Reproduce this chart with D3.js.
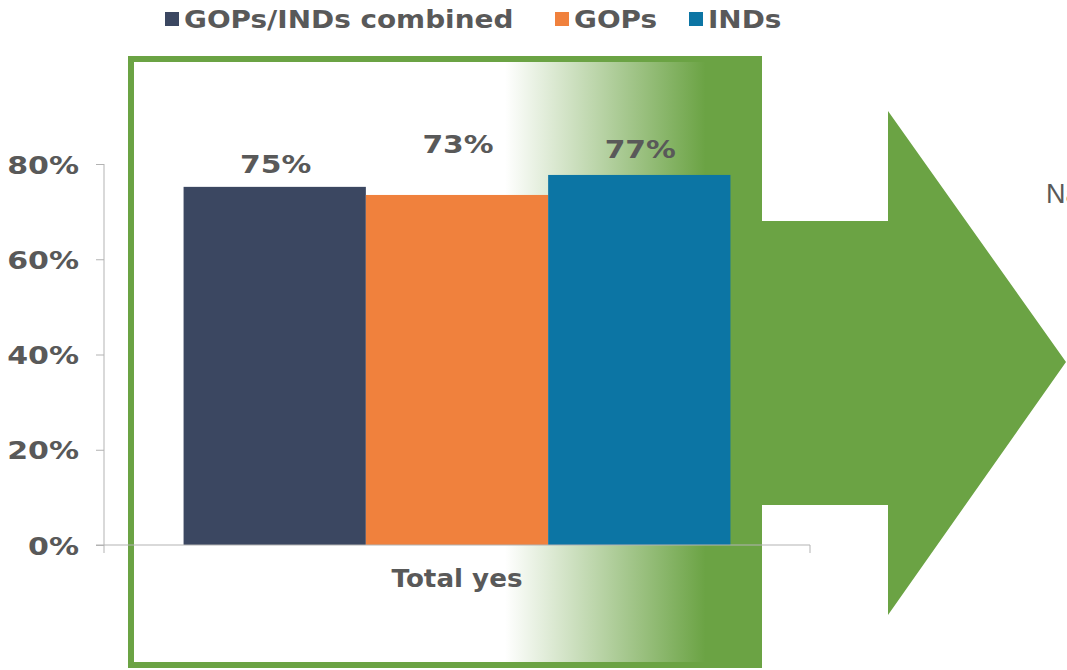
<!DOCTYPE html>
<html><head><meta charset="utf-8">
<script src="https://cdn.jsdelivr.net/npm/d3@7"></script>
<style>
html,body{margin:0;padding:0;background:#fff;}
svg{display:block;}
text{font-family:Verdana,"DejaVu Sans",sans-serif;}
</style></head>
<body>
<svg id="chart" width="1067" height="670"></svg>
<script>
// ---- data ----
const categories = ["Total yes"];
const seriesNames = ["GOPs/INDs combined", "GOPs", "INDs"];
const seriesValues = [0.752, 0.735, 0.777];
const seriesLabels = ["75%", "73%", "77%"];
const yTicks = [0, 0.2, 0.4, 0.6, 0.8];
const sideText = "Na";

// ---- style ----
const colors = ["#3b4761", "#f0813d", "#0c75a4"];
const green = "#6ba344";
const textColor = "#595959";
const axisColor = "#b3b3b3";
const labelLift = [14, 42, 17];
const legendX = [165, 555, 689];

// widen DejaVu glyphs to approximate Verdana Bold metrics
function stretch(sel, k){
  sel.each(function(){
    const w = this.getComputedTextLength();
    d3.select(this).attr("textLength", w*k).attr("lengthAdjust","spacingAndGlyphs");
  });
}

const svg = d3.select("#chart");
const defs = svg.append("defs");
const grad = defs.append("linearGradient").attr("id","fade").attr("x1","0").attr("x2","1").attr("y1","0").attr("y2","0");
grad.append("stop").attr("offset","0").attr("stop-color",green).attr("stop-opacity",0);
grad.append("stop").attr("offset","0.78").attr("stop-color",green).attr("stop-opacity",1);
grad.append("stop").attr("offset","1").attr("stop-color",green).attr("stop-opacity",1);

// background decorations: gradient panel, arrow, frame
svg.append("rect").attr("x",505).attr("y",56).attr("width",257).attr("height",612).attr("fill","url(#fade)");
svg.append("polygon")
  .attr("points",[[761,221],[888,221],[888,111],[1066,362],[888,615],[888,505],[761,505]].map(p=>p.join(",")).join(" "))
  .attr("fill",green);
svg.append("rect").attr("x",131).attr("y",59).attr("width",628).attr("height",606)
  .attr("fill","none").attr("stroke",green).attr("stroke-width",6);

svg.append("text").attr("x",1046).attr("y",203).attr("fill",textColor)
  .style("font-family","'Liberation Sans',Arial,sans-serif").attr("font-size",27).text(sideText);

// scales
const y = d3.scaleLinear().domain([0,0.8]).range([545,164]);
const x0 = d3.scaleBand().domain(categories).range([104,810]).padding(0);
const x1 = d3.scaleBand().domain(seriesNames).range([0,x0.bandwidth()]).paddingInner(0).paddingOuter(0.4365);

// y axis
const yAxis = d3.axisLeft(y).tickValues(yTicks).tickFormat(d3.format(".0%")).tickSize(8).tickPadding(17);
const gy = svg.append("g").attr("transform","translate(104,0)").call(yAxis);
gy.select(".domain").remove();
gy.selectAll(".tick line").attr("stroke",axisColor);
gy.selectAll(".tick text").attr("fill",textColor).attr("font-size",25).attr("font-weight","bold")
  .style("font-family","Verdana,'DejaVu Sans',sans-serif").attr("dy","0.36em");
stretch(gy.selectAll(".tick text"), 1.2);
svg.append("line").attr("x1",104).attr("x2",104).attr("y1",y(0.8)).attr("y2",553).attr("stroke",axisColor);

// bars
const g = svg.append("g");
categories.forEach(cat=>{
  seriesNames.forEach((s,i)=>{
    g.append("rect")
      .attr("x",x0(cat)+x1(s)).attr("y",y(seriesValues[i]))
      .attr("width",x1.bandwidth()).attr("height",y(0)-y(seriesValues[i]))
      .attr("fill",colors[i]);
    const t = g.append("text")
      .attr("x",x0(cat)+x1(s)+x1.bandwidth()/2+1)
      .attr("y",y(seriesValues[i])-labelLift[i])
      .attr("text-anchor","middle").attr("fill",textColor)
      .attr("font-size",25).attr("font-weight","bold").text(seriesLabels[i]);
    stretch(t, 1.19);
  });
});

// x axis
const xAxis = d3.axisBottom(x0).tickSize(0).tickPadding(0);
const gx = svg.append("g").attr("transform","translate(0,545)").call(xAxis);
gx.select(".domain").remove();
gx.selectAll(".tick line").remove();
gx.selectAll(".tick text").attr("y",42).attr("dy",0).attr("fill",textColor)
  .attr("font-size",24).attr("font-weight","bold").style("font-family","Verdana,'DejaVu Sans',sans-serif");
stretch(gx.selectAll(".tick text"), 1.09);
svg.append("line").attr("x1",96).attr("x2",810).attr("y1",545).attr("y2",545).attr("stroke",axisColor);
svg.append("line").attr("x1",810).attr("x2",810).attr("y1",545).attr("y2",553).attr("stroke",axisColor);

// legend
const lg = svg.append("g");
seriesNames.forEach((s,i)=>{
  lg.append("rect").attr("x",legendX[i]).attr("y",12).attr("width",14).attr("height",14).attr("fill",colors[i]);
  const t = lg.append("text").attr("x",legendX[i]+19).attr("y",28).attr("fill",textColor)
    .attr("font-size",25).attr("font-weight","bold").text(s);
  stretch(t, 1.115);
});
</script>
</body></html>
